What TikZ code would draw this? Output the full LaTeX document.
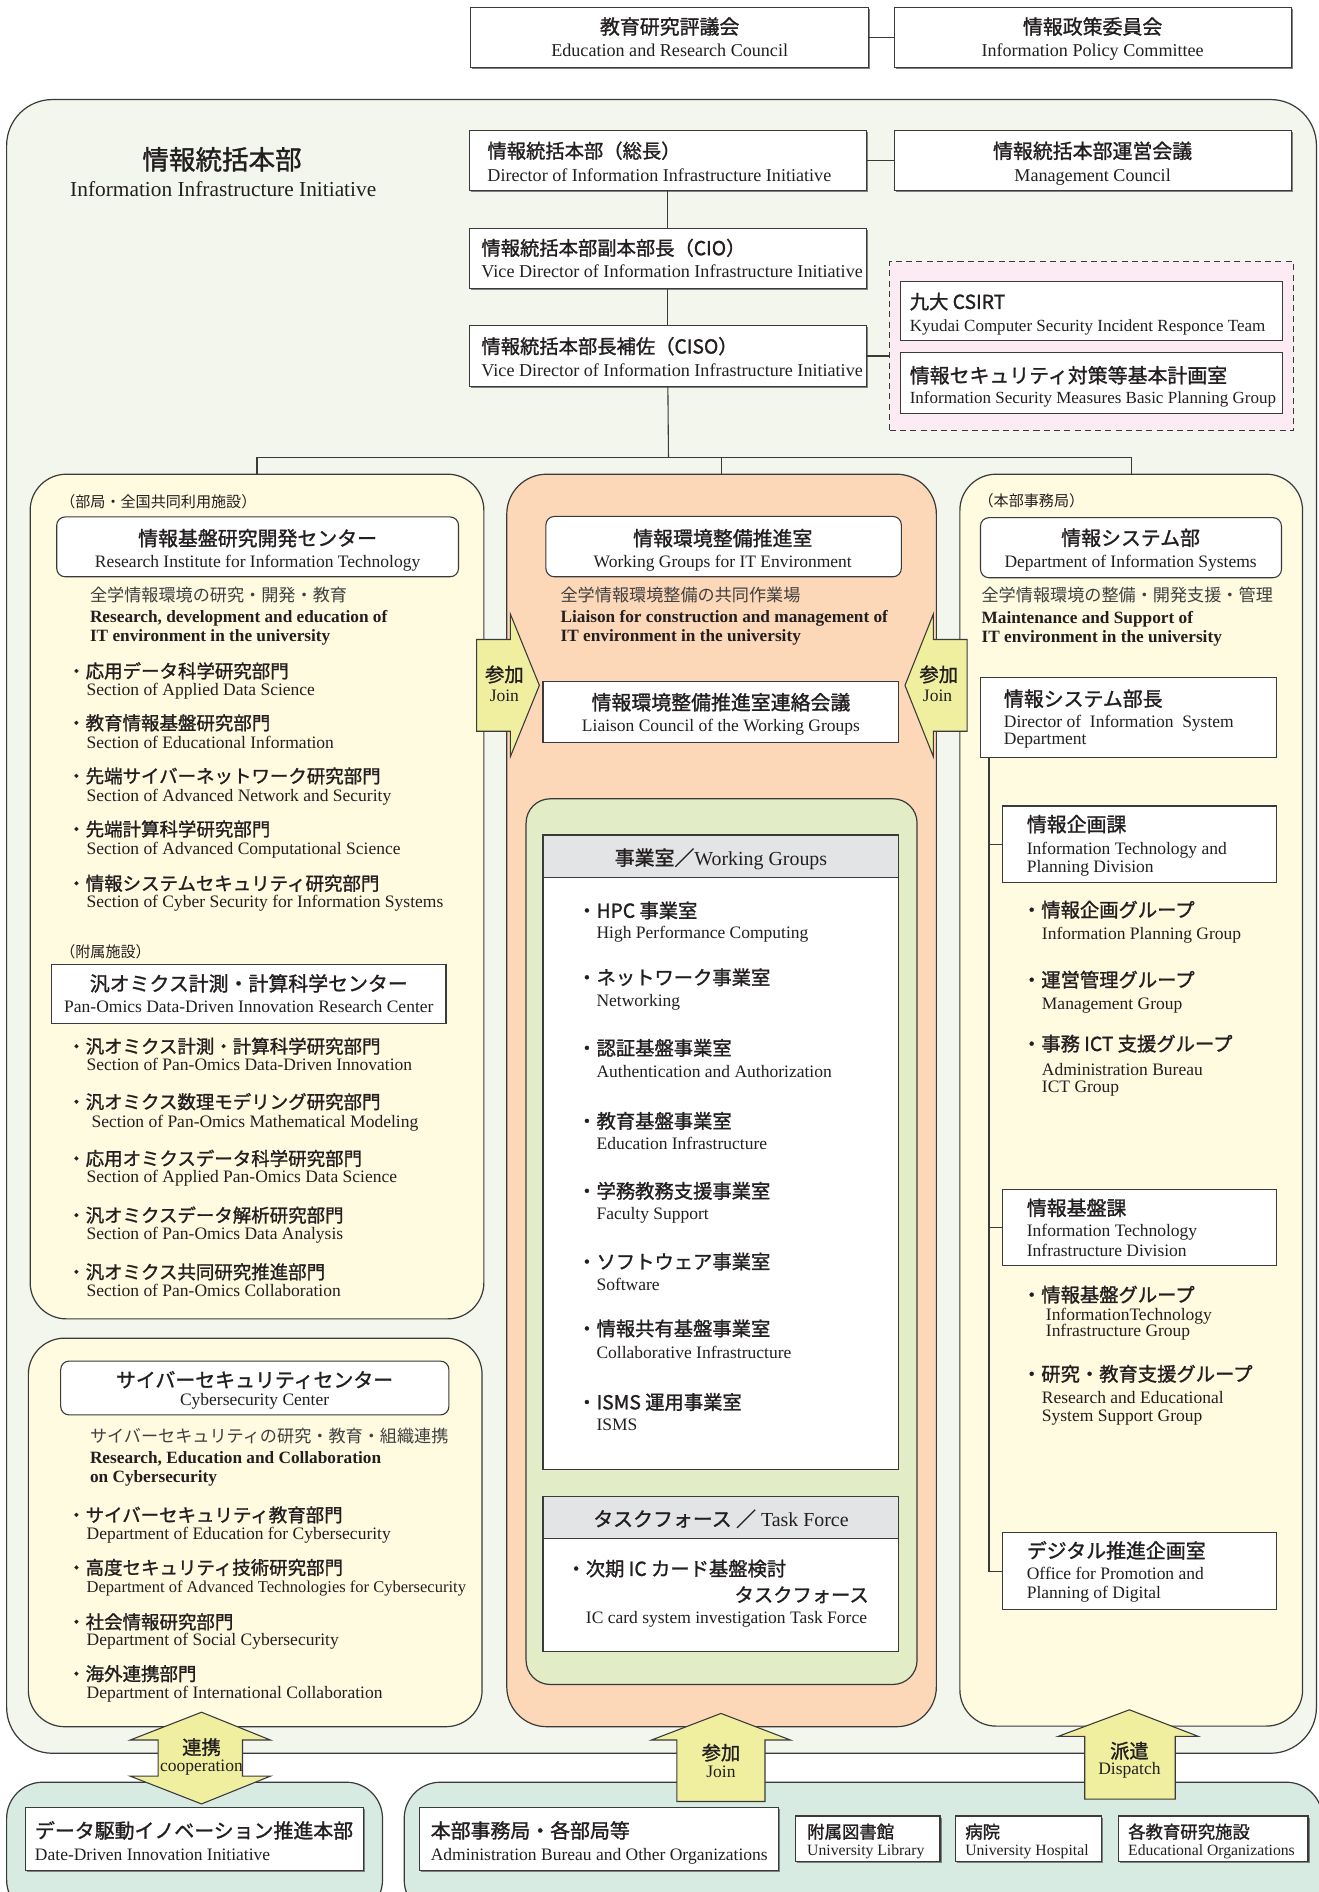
\documentclass[tikz,border=0pt]{standalone}
\usepackage{fontspec}
\setmainfont{Liberation Serif}
\newfontfamily\jp{Noto Sans CJK JP}
\newfontfamily\jpm{Noto Sans CJK JP}[FakeBold=1.3]
\usetikzlibrary{shadows}
\definecolor{outerbg}{HTML}{F3F6EC}
\definecolor{cream}{HTML}{FEFBE0}
\definecolor{peach}{HTML}{FDD8B8}
\definecolor{wgreen}{HTML}{E2EDC8}
\definecolor{hgray}{HTML}{E3E4E5}
\definecolor{pinkbg}{HTML}{FCEBF2}
\definecolor{arrowy}{HTML}{F0EFA0}
\definecolor{tealbg}{HTML}{D7EBE3}
\definecolor{ln}{HTML}{3A3A3A}
\definecolor{tc}{HTML}{231F20}
\newcounter{tn}
\newcommand\tx[4]{\stepcounter{tn}\node[#1] (tx\arabic{tn}) at (#2,#3) {#4};}
\newcommand\bxn[6]{\pgfmathsetmacro\bcx{(#3+#5)/2}\pgfmathsetmacro\bcy{(#4+#6)/2}\pgfmathsetmacro\bw{#5-#3}\pgfmathsetmacro\bh{#6-#4}\node[#1, minimum width=\bw pt, minimum height=\bh pt] (#2) at (\bcx,\bcy) {};}
\begin{document}
\begin{tikzpicture}[x=1pt,y=-1pt,
 every node/.style={inner sep=0pt, outer sep=0pt, text=tc},
 box/.style={draw=ln, fill=white, line width=0.9pt},
 rbox/.style={box, rounded corners=7pt},
 sbox/.style={box, drop shadow={shadow xshift=1.3pt, shadow yshift=-1.3pt, fill=black!50, opacity=1}},
 cont/.style={draw=ln, line width=1pt},
 con/.style={draw=ln, line width=0.9pt},
 arrowshape/.style={fill=arrowy, draw=ln, line width=0.9pt, line join=miter},
 jh/.style={font=\jpm\fontsize{16.5}{19}\selectfont, text height=14.5pt, text depth=2pt},
 jb/.style={font=\jpm\fontsize{15.3}{18}\selectfont, text height=13.5pt, text depth=1.8pt},
 jw/.style={font=\jpm\fontsize{16}{18}\selectfont, text height=14pt, text depth=2pt},
 jd/.style={font=\jp\fontsize{14.2}{17}\selectfont, text height=12.5pt, text depth=1.7pt, text=black!75},
 js/.style={font=\jp\fontsize{12.5}{15}\selectfont, text height=11pt, text depth=1.5pt},
 jsb/.style={font=\jpm\fontsize{14.4}{16}\selectfont, text height=12.7pt, text depth=1.7pt},
 jt/.style={font=\jpm\fontsize{22}{26}\selectfont, text height=19.4pt, text depth=2.6pt},
 en/.style={font=\fontsize{14.5}{16}\selectfont, text height=11pt, text depth=3pt},
 enn/.style={font=\fontsize{13.7}{16}\selectfont, text height=10.5pt, text depth=3pt},
 enc/.style={font=\fontsize{14.1}{16}\selectfont, text height=10.8pt, text depth=3pt},
 enb/.style={font=\bfseries\fontsize{14.3}{16}\selectfont, text height=11pt, text depth=3pt},
 ens/.style={font=\fontsize{13}{15}\selectfont, text height=10pt, text depth=2.8pt},
 et/.style={font=\fontsize{17.7}{20}\selectfont, text height=13.5pt, text depth=3.5pt},
 e15/.style={font=\fontsize{15}{17}\selectfont, text height=11.3pt, text depth=3pt},
 hdr/.style={font=\fontsize{16.5}{19}\selectfont, text height=14pt, text depth=2pt},
 W/.style={anchor=west},
]
\useasboundingbox (0,0) rectangle (1093,1568);
\fill[white] (0,0) rectangle (1093,1568);
\clip (0,0) rectangle (1093,1568);

% ---------- top committees
\bxn{sbox}{erc}{390}{6}{720}{56}
\bxn{sbox}{ipc}{741}{6}{1070}{56}
\draw[con] (erc.east) -- (ipc.west);
\tx{jh}{555}{22}{教育研究評議会}
\tx{e15}{555}{43}{Education and Research Council}
\tx{jh}{905.5}{22}{情報政策委員会}
\tx{e15}{905.5}{43}{Information Policy Committee}

% ---------- outer frame
\bxn{cont, fill=outerbg, rounded corners=38pt}{iii}{5.5}{82.5}{1091}{1453}
\tx{jt}{184}{132}{情報統括本部}
\tx{et}{185}{158}{Information Infrastructure Initiative}

% ---------- leadership chain
\bxn{sbox}{dir}{389}{108.5}{718}{158}
\bxn{sbox}{mgc}{741}{108.5}{1070}{158}
\bxn{sbox}{cio}{389}{189}{718}{239}
\bxn{sbox}{ciso}{389}{270}{718}{320}
\draw[con] (dir.east) -- (mgc.west);
\draw[con] (dir.south) -- (cio.north);
\draw[con] (cio.south) -- (ciso.north);
\tx{jw,W}{404}{125}{情報統括本部（総長）}
\tx{e15,W}{404}{146.5}{Director of Information Infrastructure Initiative}
\tx{jh}{905.5}{125}{情報統括本部運営会議}
\tx{e15}{905.5}{146.5}{Management Council}
\tx{jw,W}{399}{205.5}{情報統括本部副本部長（CIO）}
\tx{e15,W}{399}{226}{Vice Director of Information Infrastructure Initiative}
\tx{jw,W}{399}{287}{情報統括本部長補佐（CISO）}
\tx{e15,W}{399}{307.5}{Vice Director of Information Infrastructure Initiative}

% ---------- security group (dashed)
\bxn{draw=ln, fill=pinkbg, line width=0.9pt, dash pattern=on 5pt off 3.5pt}{sec}{737.5}{217}{1072}{357}
\draw[con] (ciso.east) -- (ciso.east -| sec.west);
\bxn{box}{csirt}{746.5}{233}{1063}{282.5}
\bxn{box}{sbp}{746.5}{292.5}{1063}{343}
\tx{jw,W}{754}{250}{九大 CSIRT}
\tx{enc,W}{754}{271}{Kyudai Computer Security Incident Responce Team}
\tx{jh,W}{754}{311}{情報セキュリティ対策等基本計画室}
\tx{enc,W}{754}{330.5}{Information Security Measures Basic Planning Group}

% ---------- columns
\coordinate (hub) at (554,379);
\draw[con] (ciso.south) -- (hub);
\bxn{cont, fill=cream, rounded corners=30pt}{colL}{25}{393}{401}{1093}
\bxn{cont, fill=peach, rounded corners=33pt}{colC}{420}{393}{776}{1431}
\bxn{cont, fill=cream, rounded corners=30pt}{colR}{795.5}{393}{1079.5}{1430.5}
\bxn{cont, fill=cream, rounded corners=30pt}{colLb}{23.5}{1109}{399.5}{1431}
\draw[con] (colL.north) -- (colL.north |- hub) -- (colR.north |- hub) -- (colR.north);
\draw[con] (colC.north) -- (colC.north |- hub);

% ---------- left column: RIIT
\tx{js,W}{50}{416}{（部局・全国共同利用施設）}
\bxn{rbox}{riit}{47}{428.4}{380}{478}
\tx{jh}{213.5}{446}{情報基盤研究開発センター}
\tx{en}{213.5}{466}{Research Institute for Information Technology}
\tx{jd,W}{74.6}{493}{全学情報環境の研究・開発・教育}
\tx{enb,W}{74.6}{512}{Research, development and education of}
\tx{enb,W}{74.6}{528}{IT environment in the university}
\tx{jb,W}{55.7}{556}{・応用データ科学研究部門}
\tx{en,W}{71.8}{572}{Section of Applied Data Science}
\tx{jb,W}{55.7}{599}{・教育情報基盤研究部門}
\tx{en,W}{71.8}{616}{Section of Educational Information}
\tx{jb,W}{55.7}{643}{・先端サイバーネットワーク研究部門}
\tx{en,W}{71.8}{660}{Section of Advanced Network and Security}
\tx{jb,W}{55.7}{687}{・先端計算科学研究部門}
\tx{en,W}{71.8}{704}{Section of Advanced Computational Science}
\tx{jb,W}{55.7}{732}{・情報システムセキュリティ研究部門}
\tx{en,W}{71.8}{748}{Section of Cyber Security for Information Systems}

% ---------- left column: Pan-Omics
\tx{js,W}{50}{789}{（附属施設）}
\bxn{box}{pan}{42.8}{799}{369.6}{848.5}
\tx{jh}{206.2}{815}{汎オミクス計測・計算科学センター}
\tx{en}{206.2}{835}{Pan-Omics Data-Driven Innovation Research Center}
\tx{jb,W}{55.7}{867}{・汎オミクス計測・計算科学研究部門}
\tx{en,W}{71.8}{883}{Section of Pan-Omics Data-Driven Innovation}
\tx{jb,W}{55.7}{913}{・汎オミクス数理モデリング研究部門}
\tx{en,W}{76}{930}{Section of Pan-Omics Mathematical Modeling}
\tx{jb,W}{55.7}{960}{・応用オミクスデータ科学研究部門}
\tx{en,W}{71.8}{976}{Section of Applied Pan-Omics Data Science}
\tx{jb,W}{55.7}{1007}{・汎オミクスデータ解析研究部門}
\tx{en,W}{71.8}{1023}{Section of Pan-Omics Data Analysis}
\tx{jb,W}{55.7}{1054}{・汎オミクス共同研究推進部門}
\tx{en,W}{71.8}{1070.6}{Section of Pan-Omics Collaboration}

% ---------- left column: Cybersecurity center
\bxn{rbox}{csc}{50.3}{1128}{372}{1172.6}
\tx{jh}{211}{1143.5}{サイバーセキュリティセンター}
\tx{en}{211}{1161}{Cybersecurity Center}
\tx{jd,W}{74.6}{1190}{サイバーセキュリティの研究・教育・組織連携}
\tx{enb,W}{74.6}{1209}{Research, Education and Collaboration}
\tx{enb,W}{74.6}{1224.6}{on Cybersecurity}
\tx{jb,W}{55.7}{1255.4}{・サイバーセキュリティ教育部門}
\tx{en,W}{71.8}{1272}{Department of Education for Cybersecurity}
\tx{jb,W}{55.7}{1299}{・高度セキュリティ技術研究部門}
\tx{enn,W}{71.8}{1316}{Department of Advanced Technologies for Cybersecurity}
\tx{jb,W}{55.7}{1344}{・社会情報研究部門}
\tx{en,W}{71.8}{1360}{Department of Social Cybersecurity}
\tx{jb,W}{55.7}{1387}{・海外連携部門}
\tx{en,W}{71.8}{1404}{Department of International Collaboration}

% ---------- center column
\bxn{rbox}{wgit}{452.4}{428}{747}{478}
\tx{jh}{599}{446}{情報環境整備推進室}
\tx{en}{599}{466}{Working Groups for IT Environment}
\tx{jd,W}{464.6}{493}{全学情報環境整備の共同作業場}
\tx{enb,W}{464.6}{512}{Liaison for construction and management of}
\tx{enb,W}{464.6}{528}{IT environment in the university}
\bxn{box}{lcw}{450}{565}{745}{615.5}
\tx{jh}{597.5}{582}{情報環境整備推進室連絡会議}
\tx{en}{597.5}{602}{Liaison Council of the Working Groups}

\bxn{cont, fill=wgreen, rounded corners=20pt}{grn}{436}{662}{760}{1396}
\bxn{box}{wgb}{450}{692}{745}{1218}
\bxn{box, fill=hgray}{wgh}{450}{692}{745}{727.6}
\tx{hdr}{597.5}{711}{{\jpm 事業室／}Working Groups}
\tx{jw,W}{478.4}{754.6}{・HPC 事業室}
\tx{en,W}{494.4}{774}{High Performance Computing}
\tx{jw,W}{478.4}{810}{・ネットワーク事業室}
\tx{en,W}{494.4}{830}{Networking}
\tx{jw,W}{478.4}{868.5}{・認証基盤事業室}
\tx{en,W}{494.4}{889}{Authentication and Authorization}
\tx{jw,W}{478.4}{929}{・教育基盤事業室}
\tx{en,W}{494.4}{949}{Education Infrastructure}
\tx{jw,W}{478.4}{987}{・学務教務支援事業室}
\tx{en,W}{494.4}{1007}{Faculty Support}
\tx{jw,W}{478.4}{1045.6}{・ソフトウェア事業室}
\tx{en,W}{494.4}{1065.4}{Software}
\tx{jw,W}{478.4}{1101}{・情報共有基盤事業室}
\tx{en,W}{494.4}{1122}{Collaborative Infrastructure}
\tx{jw,W}{478.4}{1162}{・ISMS 運用事業室}
\tx{en,W}{494.4}{1181.5}{ISMS}

\bxn{box}{tfb}{450}{1240}{745}{1368.5}
\bxn{box, fill=hgray}{tfh}{450}{1240}{745}{1275}
\tx{hdr}{597.5}{1259}{{\jpm タスクフォース ／}\ Task Force}
\tx{jw,W}{469.5}{1300}{・次期 IC カード基盤検討}
\tx{jw,anchor=east}{720}{1321.7}{タスクフォース}
\tx{en,W}{485.6}{1341.7}{IC card system investigation Task Force}

% ---------- right column
\tx{js,W}{811}{415}{（本部事務局）}
\bxn{rbox}{dis}{812.6}{429}{1062}{478.8}
\tx{jh}{937}{445.7}{情報システム部}
\tx{en}{937}{466}{Department of Information Systems}
\tx{jd,W}{813.5}{492.8}{全学情報環境の整備・開発支援・管理}
\tx{enb,W}{813.5}{512.7}{Maintenance and Support of}
\tx{enb,W}{813.5}{528.3}{IT environment in the university}
\bxn{box}{isd}{812.6}{561.8}{1058}{627.7}
\tx{jh,W}{832}{579}{情報システム部長}
\tx{en,W}{832}{598.6}{Director of~ Information~ System}
\tx{en,W}{832}{613}{Department}

\bxn{box}{plan}{831}{668}{1058}{731.7}
\bxn{box}{infra}{831}{985.7}{1058}{1049}
\bxn{box}{digi}{831}{1270}{1058}{1334}
\draw[con] ([xshift=7pt]isd.south west) |- (plan.west);
\draw[con] ([xshift=7pt]isd.south west) |- (infra.west);
\draw[con] ([xshift=7pt]isd.south west) |- (digi.west);

\tx{jh,W}{851}{683}{情報企画課}
\tx{en,W}{851}{703.8}{Information Technology and}
\tx{en,W}{851}{719.4}{Planning Division}
\tx{jw,W}{847}{754}{・情報企画グループ}
\tx{en,W}{863.5}{775}{Information Planning Group}
\tx{jw,W}{847}{812}{・運営管理グループ}
\tx{en,W}{863.5}{833}{Management Group}
\tx{jw,W}{847}{865}{・事務 ICT 支援グループ}
\tx{en,W}{863.5}{887}{Administration Bureau}
\tx{en,W}{863.5}{901.7}{ICT Group}

\tx{jh,W}{851}{1001}{情報基盤課}
\tx{en,W}{851}{1021}{Information Technology}
\tx{en,W}{851}{1037}{Infrastructure Division}
\tx{jw,W}{847}{1073}{・情報基盤グループ}
\tx{en,W}{866.8}{1090.6}{InformationTechnology}
\tx{en,W}{866.8}{1104}{Infrastructure Group}
\tx{jw,W}{847}{1138.6}{・研究・教育支援グループ}
\tx{en,W}{863.5}{1159}{Research and Educational}
\tx{en,W}{863.5}{1174.4}{System Support Group}

\tx{jh,W}{851}{1285}{デジタル推進企画室}
\tx{en,W}{851}{1305}{Office for Promotion and}
\tx{en,W}{851}{1320.6}{Planning of Digital}

% ---------- side join arrows
\filldraw[arrowshape] (395,530) -- (423,530) -- (423,509) -- (447,568) -- (423,627) -- (423,606) -- (395,606) -- cycle;
\tx{jw}{418}{559}{参加}
\tx{en}{418}{577}{Join}
\filldraw[arrowshape] (801.5,530) -- (773.5,530) -- (773.5,509) -- (750,568) -- (773.5,627) -- (773.5,606) -- (801.5,606) -- cycle;
\tx{jw}{778}{559}{参加}
\tx{en}{777}{577}{Join}

% ---------- bottom groups
\bxn{cont, fill=tealbg, rounded corners=30pt}{tealL}{5.5}{1477}{317}{1588}
\bxn{cont, fill=tealbg, rounded corners=30pt}{tealR}{335}{1477}{1096}{1588}
\bxn{sbox}{ddi}{21}{1498}{301}{1550}
\bxn{sbox}{abo}{348}{1498}{645}{1550}
\bxn{sbox}{lib}{659}{1505}{779}{1543}
\bxn{sbox}{hos}{792}{1505}{913}{1543}
\bxn{sbox}{edo}{927}{1505}{1084}{1543}
\tx{jh,W}{29}{1517}{データ駆動イノベーション推進本部}
\tx{en,W}{29}{1538}{Date-Driven Innovation Initiative}
\tx{jh,W}{357}{1517}{本部事務局・各部局等}
\tx{en,W}{357}{1538}{Administration Bureau and Other Organizations}
\tx{jsb,W}{669}{1518}{附属図書館}
\tx{ens,W}{669}{1534.5}{University Library}
\tx{jsb,W}{800}{1518}{病院}
\tx{ens,W}{800}{1534.5}{University Hospital}
\tx{jsb,W}{935}{1518}{各教育研究施設}
\tx{ens,W}{935}{1534.5}{Educational Organizations}

% ---------- bottom arrows
\filldraw[arrowshape] (167,1419) -- (224,1442) -- (201,1442) -- (201,1472) -- (224,1472) -- (167,1495) -- (108,1472) -- (131,1472) -- (131,1442) -- (108,1442) -- cycle;
\tx{jw}{167}{1448}{連携}
\tx{en}{167}{1464}{cooperation}
\filldraw[arrowshape] (597.5,1420) -- (655,1442) -- (634,1442) -- (634,1493) -- (561,1493) -- (561,1442) -- (540,1442) -- cycle;
\tx{jw}{597.5}{1452.5}{参加}
\tx{en}{597.5}{1469}{Join}
\filldraw[arrowshape] (936,1417) -- (993,1439) -- (974,1439) -- (974,1491) -- (899,1491) -- (899,1439) -- (877,1439) -- cycle;
\tx{jw}{936}{1451}{派遣}
\tx{en}{936}{1466.7}{Dispatch}
\end{tikzpicture}
\end{document}
